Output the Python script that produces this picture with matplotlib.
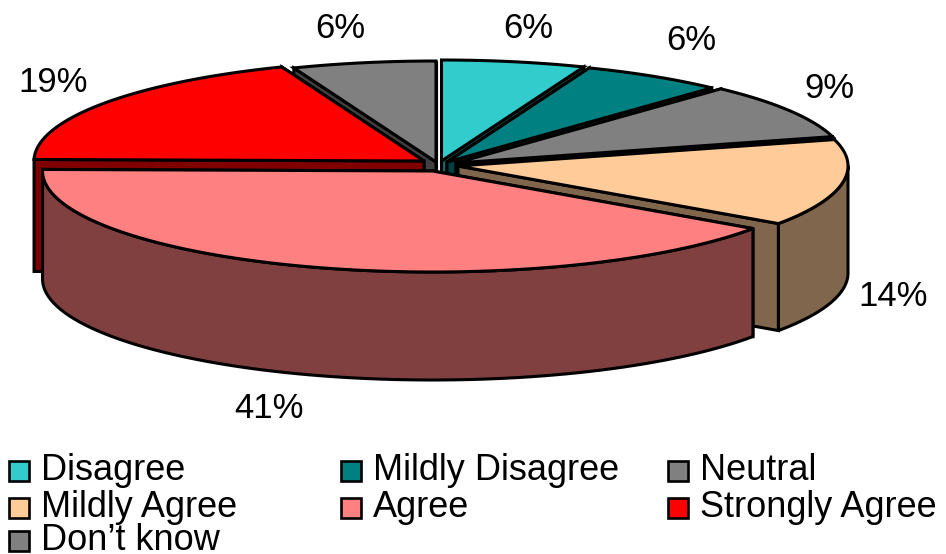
import numpy as np
import matplotlib
matplotlib.use("Agg")
import matplotlib.pyplot as plt
from matplotlib.patches import Polygon, Rectangle

plt.rcParams['font.family'] = ['Liberation Sans', 'DejaVu Sans']

# data
categories = ["Disagree", "Mildly Disagree", "Neutral", "Mildly Agree", "Agree", "Strongly Agree", "Don\u2019t know"]
values = [6, 6, 9, 14, 41, 19, 6]
top_colors = ["#33CCCC", "#008080", "#808080", "#FFCC99", "#FF8080", "#FF0000", "#808080"]
side_colors = ["#1A6666", "#004040", "#404040", "#80664D", "#804040", "#800000", "#404040"]

# pie geometry, in pixels of the picture
apex = [(441.5, 161), (447, 162), (456, 163), (458, 166), (432.5, 171), (424, 161), (436, 162)]
depths = [108, 108, 108, 107, 108, 112, 108]
label_pos = [(528, 29), (691, 40), (829, 89), (893, 297), (269, 409), (53, 82), (340, 29)]
rx, ry = 390, 101
draw_order = [6, 0, 1, 2, 5, 3, 4]

fig = plt.figure(figsize=(9.46, 5.54), dpi=100)
ax = fig.add_axes([0, 0, 1, 1])
ax.set_xlim(0, 946)
ax.set_ylim(554, 0)
ax.axis("off")

fracs = np.array(values) / sum(values)
edges = np.concatenate([[0], np.cumsum(fracs)]) * 2 * np.pi
lw = 2.2


def rim(i):
    t = np.linspace(edges[i], edges[i + 1], 80)
    cx, cy = apex[i]
    return np.column_stack([cx + rx * np.sin(t), cy - ry * np.cos(t)])


for i in draw_order:
    arc = rim(i)
    c = np.array([apex[i]], dtype=float)
    shift = np.array([0, depths[i]])
    # the two cut faces, the one that can be seen goes last
    mid = (edges[i] + edges[i + 1]) / 2
    tips = (arc[:1], arc[-1:]) if mid < np.pi else (arc[-1:], arc[:1])
    for tip in tips:
        face = np.vstack([c, tip, tip + shift, c + shift])
        ax.add_patch(Polygon(face, fc=side_colors[i], ec="black", lw=lw, joinstyle="miter"))
    # outer wall, only the part that faces the viewer
    t = np.linspace(edges[i], edges[i + 1], 80)
    front = arc[(t > np.pi / 2) & (t < 3 * np.pi / 2)]
    if len(front) > 1:
        wall = np.vstack([front, (front + shift)[::-1]])
        ax.add_patch(Polygon(wall, fc=side_colors[i], ec="black", lw=lw, joinstyle="round"))
    # top
    ax.add_patch(Polygon(np.vstack([c, arc]), fc=top_colors[i], ec="black", lw=lw, joinstyle="miter"))

for v, (x, y) in zip(values, label_pos):
    ax.text(x, y, "%d%%" % v, fontsize=25, ha="center", va="center", color="black")

# legend
col_x = [8, 340, 667]
row_y = [460, 497, 530]
for n, name in enumerate(categories):
    x = col_x[n % 3]
    y = row_y[n // 3]
    ax.add_patch(Rectangle((x + 1, y + 1), 20, 20, fc=top_colors[n], ec="black", lw=1.9))
    ax.text(x + 33, y + 20, name, fontsize=26, ha="left", va="baseline", color="black")

fig.savefig("out.png", dpi=100)
